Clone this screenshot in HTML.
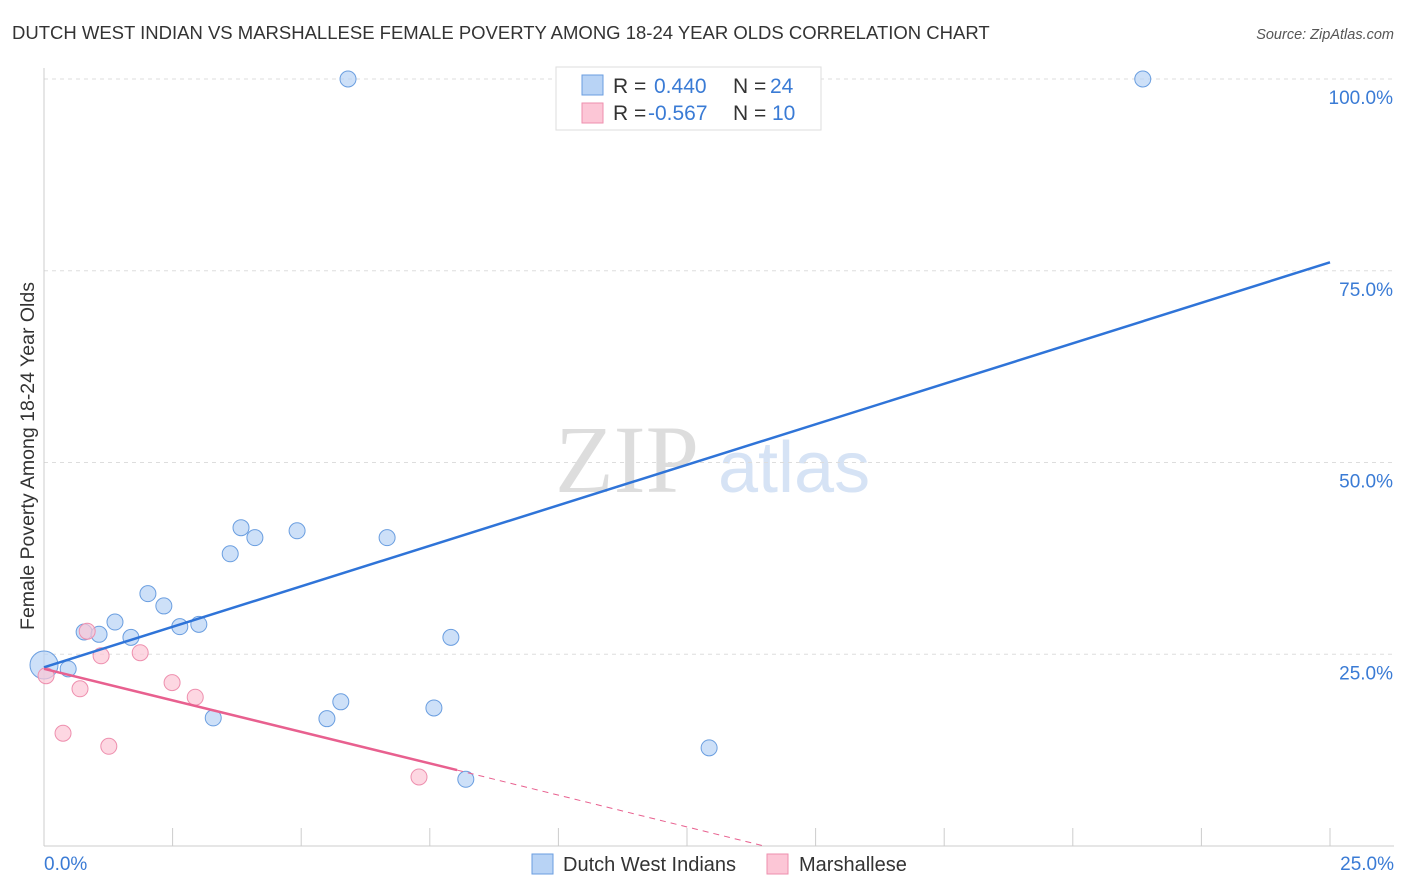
<!DOCTYPE html>
<html><head><meta charset="utf-8">
<style>
body{margin:0;background:#fff;font-family:"Liberation Sans",sans-serif;}
svg{display:block}
</style></head>
<body>
<svg id="chart" width="1406" height="892" xmlns="http://www.w3.org/2000/svg">
<text x="12" y="39" font-size="18.5" fill="#333">DUTCH WEST INDIAN VS MARSHALLESE FEMALE POVERTY AMONG 18-24 YEAR OLDS CORRELATION CHART</text>
<text x="1394" y="39" font-size="14.5" fill="#555" font-style="italic" text-anchor="end">Source: ZipAtlas.com</text>
<text x="555" y="492" font-size="96" fill="#ddd" font-family="Liberation Serif,serif">ZIP</text>
<text x="718" y="492" font-size="72" fill="#d6e3f5">atlas</text>
<text transform="translate(34,456) rotate(-90)" font-size="19.5" fill="#333" text-anchor="middle">Female Poverty Among 18-24 Year Olds</text>
<g id="grid"></g><g id="marks"></g>
<g>
<rect x="556" y="67" width="265" height="63" fill="#fff" stroke="#ddd"/>
<rect x="582" y="75" width="21" height="20" fill="#b8d3f5" stroke="#6a9ee0"/>
<rect x="582" y="103" width="21" height="20" fill="#fcc6d6" stroke="#ee8fae"/>
<text x="613" y="93" font-size="21" fill="#333">R = </text><text x="654" y="93" font-size="21" fill="#3a7bd5">0.440</text>
<text x="733" y="93" font-size="21" fill="#333">N = </text><text x="770" y="93" font-size="21" fill="#3a7bd5">24</text>
<text x="613" y="120" font-size="21" fill="#333">R = </text><text x="648" y="120" font-size="21" fill="#3a7bd5">-0.567</text>
<text x="733" y="120" font-size="21" fill="#333">N = </text><text x="772" y="120" font-size="21" fill="#3a7bd5">10</text>
</g>
<g>
<rect x="532" y="854" width="21" height="20" fill="#b8d3f5" stroke="#6a9ee0"/>
<text x="563" y="871" font-size="20" fill="#333">Dutch West Indians</text>
<rect x="767" y="854" width="21" height="20" fill="#fcc6d6" stroke="#ee8fae"/>
<text x="799" y="871" font-size="20" fill="#333">Marshallese</text>
</g>
</svg>
<script>
const blueX=[0,0.47,0.78,1.07,1.38,1.69,2.02,2.33,2.64,3.01,3.29,3.62,3.83,4.10,4.92,5.50,5.77,5.91,6.67,7.58,7.91,8.20,12.93,21.36];
const blueY=[23.6,23.1,27.9,27.6,29.2,27.2,32.9,31.3,28.6,28.9,16.7,38.1,41.5,40.2,41.1,16.6,18.8,100,40.2,18.0,27.2,8.7,12.8,100];
const pinkX=[0.04,0.37,0.70,0.84,1.11,1.26,1.87,2.49,2.94,7.29];
const pinkY=[22.2,14.7,20.5,28.0,24.8,13.0,25.2,21.3,19.4,9.0];
const blueTrend=[[0,23.3],[25,76.1]];
const pinkTrend=[[0,23.1],[8.03,9.9]];
const pinkDash=[[8.03,9.9],[14.0,0]];
const yTicks=[25,50,75,100];
const yTickLabels=["25.0%","50.0%","75.0%","100.0%"];
const xTicks=[0,2.5,5,7.5,10,12.5,15,17.5,20,22.5,25];
const xTickLabels=["0.0%","25.0%"];
const sx=v=>44+v*51.44, sy=v=>846-v*7.67;
const NS="http://www.w3.org/2000/svg";
function mk(t,a,p){const e=document.createElementNS(NS,t);for(const k in a)e.setAttribute(k,a[k]);p.appendChild(e);return e;}
const grid=document.getElementById('grid'), marks=document.getElementById('marks');
yTicks.forEach((t,i)=>{
 const l=mk('line',{x1:44,x2:1394,y1:sy(t),y2:sy(t),stroke:'#ddd','stroke-dasharray':'4,4'},grid);
 
 
 const tx=mk('text',{x:1393,y:sy(t)+25,'font-size':19,fill:'#3a7bd5','text-anchor':'end'},grid);
 tx.textContent=yTickLabels[i];
 
 
});
const ax=mk('line',{x1:44,x2:44,y1:68,y2:846,stroke:'#ccc'},grid);


const xa=mk('line',{x1:44,x2:1394,y1:846,y2:846,stroke:'#ccc'},grid);


xTicks.forEach(t=>{
 const l=mk('line',{x1:sx(t),x2:sx(t),y1:828,y2:846,stroke:'#ccc'},grid);
 
 
});
[[0,'start',44],[25,'end',1394]].forEach((d,i)=>{
 const tx=mk('text',{x:d[2],y:870,'font-size':19,fill:'#3a7bd5','text-anchor':d[1]},grid);
 tx.textContent=xTickLabels[i];
 
 
});
blueX.forEach((x,i)=>{
 const c=mk('circle',{cx:sx(x),cy:sy(blueY[i]),r:i==0?14:8,fill:'#b8d3f5','fill-opacity':0.7,stroke:'#6a9ee0','stroke-width':1},marks);
 
 
});
pinkX.forEach((x,i)=>{
 const c=mk('circle',{cx:sx(x),cy:sy(pinkY[i]),r:8,fill:'#fcc6d6','fill-opacity':0.7,stroke:'#ee8fae','stroke-width':1},marks);
 
 
});
const bt=mk('line',{x1:sx(blueTrend[0][0]),y1:sy(blueTrend[0][1]),x2:sx(blueTrend[1][0]),y2:sy(blueTrend[1][1]),stroke:'#2f74d8','stroke-width':2.5},marks);


const pt=mk('line',{x1:sx(pinkTrend[0][0]),y1:sy(pinkTrend[0][1]),x2:sx(pinkTrend[1][0]),y2:sy(pinkTrend[1][1]),stroke:'#e8608f','stroke-width':2.5},marks);


const pd=mk('line',{x1:sx(pinkDash[0][0]),y1:sy(pinkDash[0][1]),x2:sx(pinkDash[1][0]),y2:sy(pinkDash[1][1]),stroke:'#e8608f','stroke-width':1,'stroke-dasharray':'6,5'},marks);


</script>
</body></html>
